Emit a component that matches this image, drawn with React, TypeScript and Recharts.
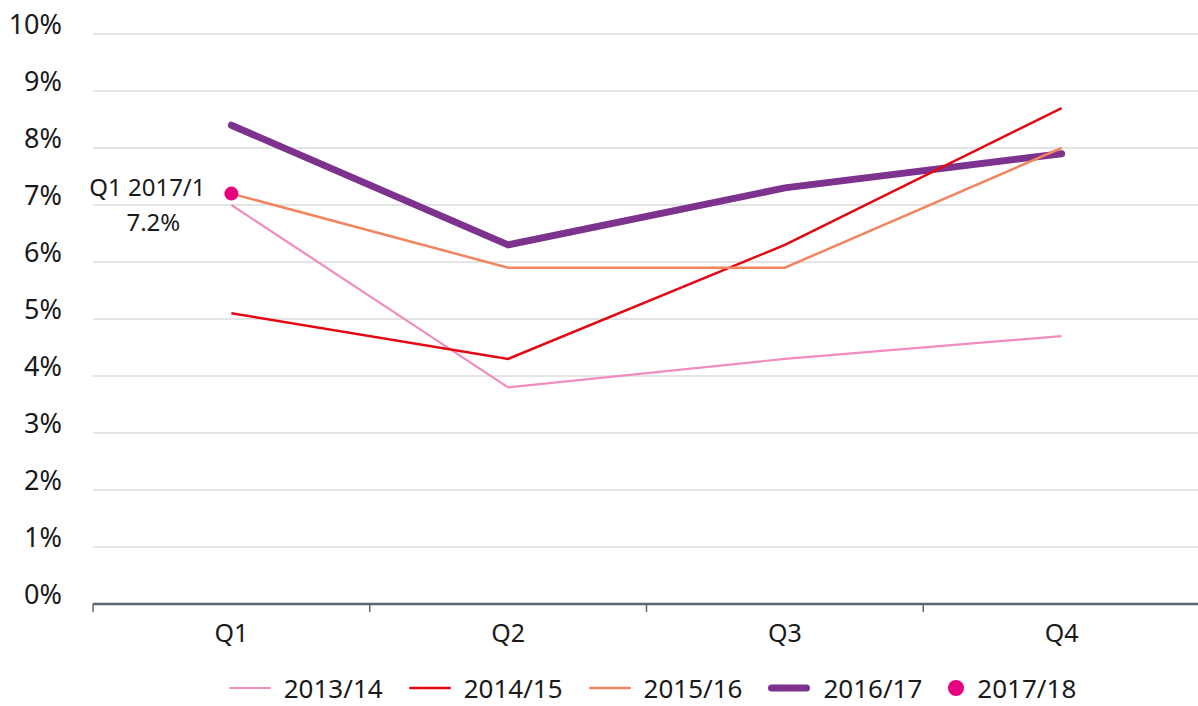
import React from "react";
import { LineChart, Line, XAxis, YAxis, CartesianGrid, Legend, LabelList } from "recharts";

const quarters = ["Q1", "Q2", "Q3", "Q4"];
const s201314 = [7.0, 3.8, 4.3, 4.7];
const s201415 = [5.1, 4.3, 6.3, 8.7];
const s201516 = [7.2, 5.9, 5.9, 8.0];
const s201617 = [8.4, 6.3, 7.3, 7.9];
const s201718: (number | null)[] = [7.2, null, null, null];
const yTicks = [0, 1, 2, 3, 4, 5, 6, 7, 8, 9, 10];
const dotLabel = ["Q1 2017/1", "7.2%"];

const FONT = "'Noto Sans', 'Open Sans', sans-serif";

const series = [
  { key: "2013/14", color: "#f08cbf", width: 2.2 },
  { key: "2014/15", color: "#e30613", width: 2.5 },
  { key: "2015/16", color: "#f2845f", width: 2.5 },
  { key: "2016/17", color: "#7d338d", width: 7 },
];
const dotColor = "#e6007e";

const data = quarters.map((q, i) => ({
  quarter: q,
  "2013/14": s201314[i],
  "2014/15": s201415[i],
  "2015/16": s201516[i],
  "2016/17": s201617[i],
  "2017/18": s201718[i],
}));

const YTick = (props: any) => {
  const { x, y, payload } = props;
  return (
    <text x={x} y={y - 11} textAnchor="end" dominantBaseline="central" fontSize={27} fill="#1a1a1a" fontFamily={FONT}>
      {payload.value}%
    </text>
  );
};

const XTick = (props: any) => {
  const { x, y, payload } = props;
  const off = payload && typeof payload.offset === "number" ? payload.offset : 0;
  return (
    <g>
      {off > 0 && <line x1={x - off} y1={y} x2={x - off} y2={y + 8} stroke="#5b6670" strokeWidth={1.5} />}
      <text x={x} y={y + 28} textAnchor="middle" dominantBaseline="central" fontSize={25} fill="#1a1a1a" fontFamily={FONT}>
        {payload.value}
      </text>
    </g>
  );
};

const DotLabel = (props: any) => {
  const { x, y, value } = props;
  if (value == null) return null;
  return (
    <g fontFamily={FONT} fontSize={24} fill="#1a1a1a">
      <text x={x - 84} y={y - 7} textAnchor="middle" dominantBaseline="central">{dotLabel[0]}</text>
      <text x={x - 78} y={y + 28} textAnchor="middle" dominantBaseline="central">{dotLabel[1]}</text>
    </g>
  );
};

const LegendContent = () => (
  <div style={{ display: "flex", justifyContent: "center", alignItems: "center", paddingLeft: 104, fontFamily: FONT, fontSize: 26, color: "#1a1a1a", height: 36 }}>
    {series.map((s) => (
      <div key={s.key} style={{ display: "flex", alignItems: "center", marginRight: 25 }}>
        <svg width={44} height={12} style={{ marginRight: 12 }}>
          <line x1={s.width / 2 + 1} y1={6} x2={43 - s.width / 2} y2={6} stroke={s.color} strokeWidth={s.width} strokeLinecap="round" />
        </svg>
        <span>{s.key}</span>
      </div>
    ))}
    <div style={{ display: "flex", alignItems: "center" }}>
      <svg width={18} height={18} style={{ marginRight: 12 }}>
        <circle cx={9} cy={9} r={8} fill={dotColor} />
      </svg>
      <span>2017/18</span>
    </div>
  </div>
);

export default function App() {
  return (
    <div style={{ position: "absolute", left: 0, top: 0, width: 1198, height: 706, overflow: "hidden", background: "#fff" }}>
      <LineChart width={1200} height={706} data={data} margin={{ top: 34, right: 0, bottom: 0, left: 0 }}>
        <CartesianGrid vertical={false} stroke="#c9c9c9" strokeWidth={1} />
        <XAxis
          dataKey="quarter"
          scale="band"
          interval={0}
          height={66}
          tickLine={false}
          tickSize={0}
          tickMargin={0}
          axisLine={{ stroke: "#5b6670", strokeWidth: 2.5 }}
          tick={<XTick />}
        />
        <YAxis
          domain={[0, 10]}
          ticks={yTicks}
          interval={0}
          width={93}
          axisLine={false}
          tickLine={false}
          tickSize={0}
          tickMargin={31}
          tick={<YTick />}
        />
        <Legend verticalAlign="bottom" height={36} content={<LegendContent />} />
        <Line dataKey="2016/17" stroke={series[3].color} strokeWidth={7} strokeLinecap="round" dot={false} isAnimationActive={false} />
        <Line dataKey="2013/14" stroke={series[0].color} strokeWidth={2.2} dot={false} isAnimationActive={false} />
        <Line dataKey="2014/15" stroke={series[1].color} strokeWidth={2.5} dot={false} isAnimationActive={false} />
        <Line dataKey="2015/16" stroke={series[2].color} strokeWidth={2.5} dot={false} isAnimationActive={false} />
        <Line
          dataKey="2017/18"
          stroke="none"
          strokeWidth={0}
          dot={{ r: 7, fill: dotColor, stroke: "none" }}
          activeDot={false}
          isAnimationActive={false}
        >
          <LabelList dataKey="2017/18" content={<DotLabel />} />
        </Line>
      </LineChart>
    </div>
  );
}
